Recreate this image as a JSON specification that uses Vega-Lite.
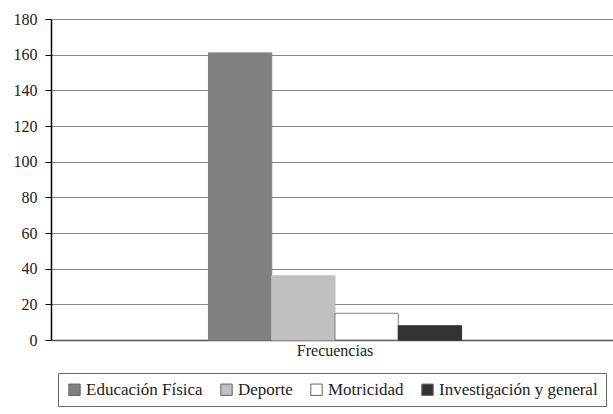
{
  "$schema": "https://vega.github.io/schema/vega-lite/v6.json",
  "autosize": "none",
  "width": 568,
  "height": 321,
  "padding": {"left": 51, "top": 19, "right": 0, "bottom": 74},
  "background": "white",
  "config": {
    "font": "Liberation Serif, serif",
    "view": {"stroke": null}
  },
  "data": {
    "values": [
      {"grupo": "Frecuencias", "area": "Educación Física", "n": 161},
      {"grupo": "Frecuencias", "area": "Deporte", "n": 36},
      {"grupo": "Frecuencias", "area": "Motricidad", "n": 15},
      {"grupo": "Frecuencias", "area": "Investigación y general", "n": 8}
    ]
  },
  "mark": {"type": "bar", "strokeWidth": 1},
  "encoding": {
    "x": {
      "field": "grupo",
      "type": "nominal",
      "scale": {"paddingInner": 0, "paddingOuter": 0.622},
      "axis": {
        "title": null,
        "labelAngle": 0,
        "labelFont": "Liberation Serif, serif",
        "labelFontSize": 16,
        "labelColor": "#222",
        "labelPadding": 2,
        "ticks": false,
        "domainColor": "#555",
        "domainWidth": 1.5
      }
    },
    "xOffset": {
      "field": "area",
      "type": "nominal",
      "sort": ["Educación Física", "Deporte", "Motricidad", "Investigación y general"],
      "scale": {"paddingInner": 0, "paddingOuter": 0}
    },
    "y": {
      "field": "n",
      "type": "quantitative",
      "scale": {"domain": [0, 180], "nice": false},
      "axis": {
        "title": null,
        "values": [0, 20, 40, 60, 80, 100, 120, 140, 160, 180],
        "labelFont": "Liberation Serif, serif",
        "labelFontSize": 16,
        "labelColor": "#222",
        "labelPadding": 8,
        "tickSize": 6,
        "tickColor": "#000",
        "domainColor": "#000",
        "domainWidth": 1.5,
        "gridColor": "#888",
        "gridWidth": 1,
        "gridOpacity": 1
      }
    },
    "fill": {
      "field": "area",
      "type": "nominal",
      "sort": ["Educación Física", "Deporte", "Motricidad", "Investigación y general"],
      "scale": {"range": ["#808080", "#c0c0c0", "#ffffff", "#333333"]},
      "legend": {
        "title": null,
        "orient": "none",
        "legendX": 7,
        "legendY": 354,
        "direction": "horizontal",
        "symbolType": "square",
        "symbolSize": 130,
        "symbolStrokeWidth": 1,
        "symbolStrokeColor": "#666",
        "labelFont": "Liberation Serif, serif",
        "labelFontSize": 17,
        "labelColor": "#222",
        "labelLimit": 300,
        "labelOffset": 3,
        "columnPadding": 15,
        "padding": 8,
        "strokeColor": "#666",
        "fillColor": "white"
      }
    },
    "stroke": {
      "field": "area",
      "type": "nominal",
      "sort": ["Educación Física", "Deporte", "Motricidad", "Investigación y general"],
      "scale": {"range": ["#808080", "#c0c0c0", "#808080", "#333333"]},
      "legend": null
    }
  }
}
